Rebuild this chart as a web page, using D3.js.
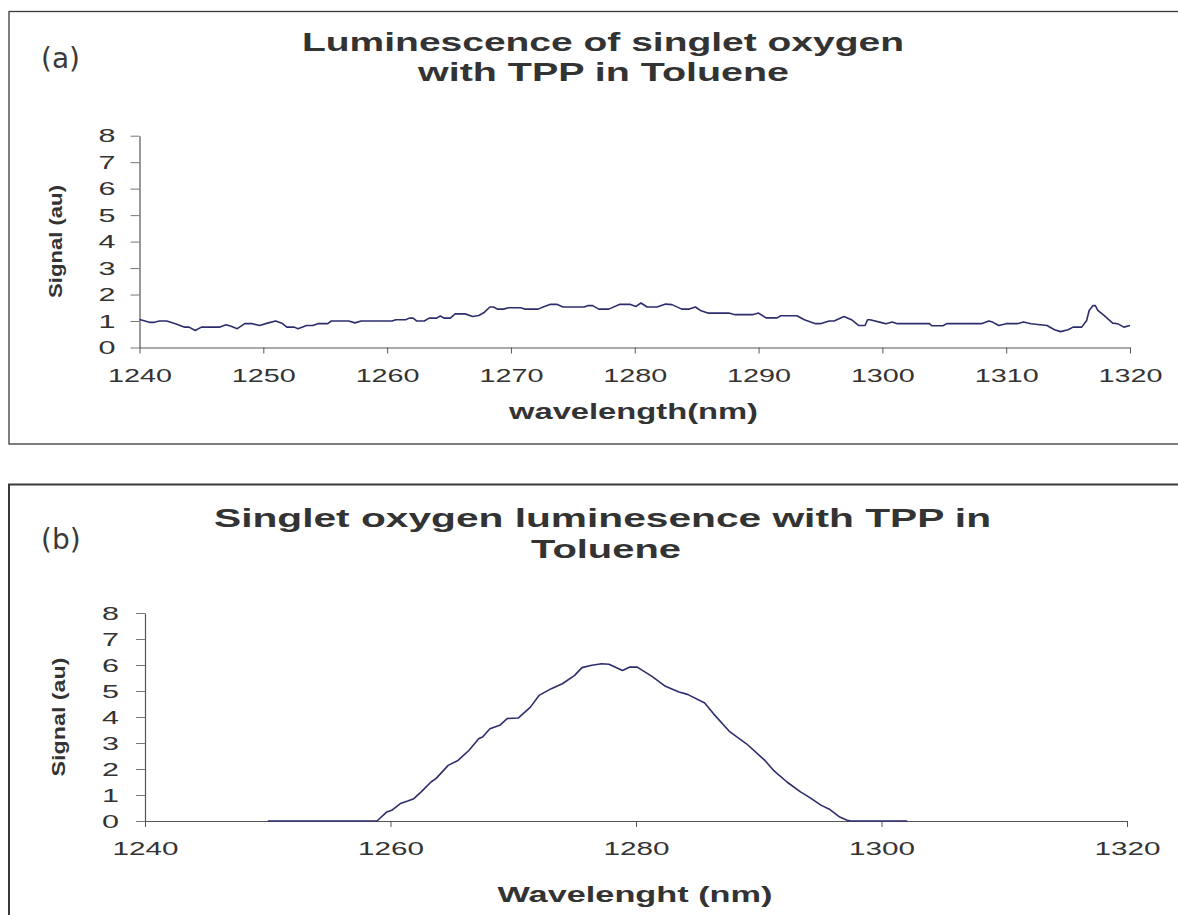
<!DOCTYPE html>
<html>
<head>
<meta charset="utf-8">
<script src="https://cdn.jsdelivr.net/npm/d3@7"></script>
<style>
  html, body { margin: 0; padding: 0; background: #fff; }
  svg { display: block; }
  text { font-family: "Liberation Sans", Arial, sans-serif; fill: #333; }
</style>
</head>
<body>
<svg id="chart" width="1178" height="915"></svg>
<script>
// ---------- data ----------
const aWavelength = [1240.0,1240.3,1240.8,1241.2,1241.6,1242.2,1242.9,1243.6,1244.0,1244.5,1245.0,1246.5,1247.0,1247.4,1247.9,1248.5,1249.1,1249.7,1250.4,1251.0,1251.5,1251.9,1252.5,1252.8,1253.5,1254.0,1254.4,1255.2,1255.5,1256.9,1257.4,1257.9,1260.4,1260.7,1261.5,1261.8,1262.1,1262.4,1263.0,1263.4,1264.0,1264.3,1264.6,1265.1,1265.5,1266.3,1266.9,1267.4,1267.8,1268.3,1268.6,1268.9,1269.4,1269.8,1270.8,1271.1,1272.2,1272.6,1273.2,1273.7,1274.2,1275.9,1276.2,1276.6,1277.1,1277.9,1278.8,1279.6,1280.1,1280.5,1281.0,1281.8,1282.5,1283.0,1283.8,1284.4,1284.9,1285.3,1285.9,1287.6,1288.1,1289.5,1290.0,1290.6,1291.5,1291.8,1293.1,1293.7,1294.6,1295.0,1295.7,1296.1,1296.9,1297.5,1298.1,1298.6,1298.8,1299.0,1300.1,1300.3,1300.8,1301.2,1303.8,1304.0,1304.9,1305.2,1308.0,1308.6,1308.9,1309.4,1310.0,1310.9,1311.4,1312.0,1313.3,1313.9,1314.4,1315.0,1315.4,1316.1,1316.5,1316.7,1317.0,1317.2,1317.4,1317.9,1318.6,1319.0,1319.5,1320.0];
const aSignal = [1.06,1.02,0.95,0.95,1.00,1.00,0.90,0.77,0.77,0.64,0.77,0.77,0.86,0.80,0.71,0.90,0.90,0.83,0.93,1.00,0.92,0.77,0.77,0.71,0.83,0.83,0.90,0.90,1.00,1.00,0.93,1.00,1.00,1.05,1.05,1.11,1.11,1.00,1.00,1.11,1.11,1.19,1.11,1.11,1.27,1.27,1.17,1.21,1.31,1.53,1.53,1.45,1.45,1.50,1.50,1.45,1.45,1.53,1.63,1.63,1.53,1.53,1.58,1.58,1.45,1.45,1.63,1.63,1.55,1.68,1.53,1.53,1.64,1.62,1.45,1.45,1.53,1.40,1.30,1.30,1.24,1.24,1.30,1.12,1.12,1.20,1.20,1.05,0.90,0.90,1.00,1.00,1.17,1.05,0.83,0.83,1.05,1.05,0.92,0.90,0.96,0.90,0.90,0.82,0.82,0.90,0.90,1.00,0.96,0.83,0.90,0.90,0.96,0.90,0.83,0.67,0.60,0.67,0.77,0.77,1.02,1.40,1.58,1.58,1.40,1.21,0.92,0.90,0.77,0.83];

const bWavelength = [1250.0,1258.9,1259.7,1260.1,1260.8,1261.4,1261.9,1262.5,1263.3,1263.7,1264.7,1265.5,1266.4,1267.2,1267.5,1268.1,1268.9,1269.5,1270.4,1271.4,1272.1,1273.1,1274.0,1275.0,1275.6,1276.4,1277.2,1277.8,1278.9,1279.5,1280.1,1281.3,1282.4,1283.5,1284.2,1285.6,1286.3,1287.6,1289.0,1290.5,1291.2,1292.3,1293.4,1294.1,1295.1,1295.8,1296.6,1297.2,1297.5,1302.1];
const bSignal = [0,0,0.35,0.41,0.67,0.77,0.86,1.12,1.50,1.63,2.14,2.33,2.72,3.17,3.23,3.55,3.68,3.94,3.96,4.38,4.83,5.09,5.28,5.60,5.90,5.99,6.05,6.03,5.79,5.92,5.92,5.56,5.18,4.96,4.87,4.54,4.13,3.45,2.97,2.33,1.95,1.50,1.12,0.92,0.60,0.44,0.15,0.03,0,0];

const aXTicks = [1240,1250,1260,1270,1280,1290,1300,1310,1320];
const bXTicks = [1240,1260,1280,1300,1320];
const yTicks = [0,1,2,3,4,5,6,7,8];

const panels = [
  {
    tag: "(a)", tagY: 68,
    frame: {x: 9, y: 11.5, w: 1200, h: 432.5, sw: 1.3},
    x0: 139.5, x1: 1130, y0: 347.5, y8: 135.7,
    xTicks: aXTicks, xTickLen: 64,
    title: [
      {t: "Luminescence of singlet oxygen", x: 302, y: 51, len: 602},
      {t: "with TPP in Toluene", x: 418, y: 81, len: 371}
    ],
    xTitle: {t: "wavelength(nm)", x: 509, y: 419, len: 249},
    yTitle: {x: 62, y: 241.5, len: 113},
    yPad: 15,
    wl: aWavelength, sig: aSignal
  },
  {
    tag: "(b)", tagY: 549,
    frame: {x: 9, y: 484.5, w: 1200, h: 500, sw: 2},
    x0: 145, x1: 1127, y0: 821, y8: 613,
    xTicks: bXTicks, xTickLen: 66,
    title: [
      {t: "Singlet oxygen luminesence with TPP in", x: 214, y: 527, len: 777},
      {t: "Toluene", x: 531, y: 558, len: 150}
    ],
    xTitle: {t: "Wavelenght (nm)", x: 497.5, y: 902, len: 275},
    yTitle: {x: 65, y: 717, len: 119},
    yPad: 17,
    wl: bWavelength, sig: bSignal
  }
];

const svg = d3.select("#chart");

panels.forEach(p => {
  const g = svg.append("g");

  g.append("rect")
    .attr("x", p.frame.x).attr("y", p.frame.y)
    .attr("width", p.frame.w).attr("height", p.frame.h)
    .attr("fill", "none").attr("stroke", "#3a3a3a").attr("stroke-width", p.frame.sw);

  g.append("text")
    .attr("x", 41).attr("y", p.tagY)
    .style("font-family", "'DejaVu Sans', Verdana, sans-serif")
    .style("font-size", "28px")
    .style("fill", "#3a3a3a")
    .text(p.tag);

  p.title.forEach(l => {
    g.append("text")
      .attr("x", l.x).attr("y", l.y)
      .attr("textLength", l.len).attr("lengthAdjust", "spacingAndGlyphs")
      .style("font-size", "25px").style("font-weight", "bold")
      .text(l.t);
  });

  const x = d3.scaleLinear().domain([1240, 1320]).range([p.x0, p.x1]);
  const y = d3.scaleLinear().domain([0, 8]).range([p.y0, p.y8]);

  // x axis
  const xa = g.append("g").attr("transform", `translate(0,${p.y0})`)
    .call(d3.axisBottom(x).tickValues(p.xTicks).tickSize(6).tickSizeOuter(0).tickPadding(15).tickFormat(d3.format("d")));
  xa.select(".domain").attr("stroke", "#555").attr("stroke-width", 1.2);
  xa.selectAll(".tick line").attr("stroke", "#555");
  xa.selectAll(".tick text")
    .style("font-size", "19px").style("font-family", "'Liberation Sans', Arial, sans-serif").attr("fill", "#333")
    .attr("textLength", p.xTickLen).attr("lengthAdjust", "spacingAndGlyphs");

  // y axis
  const ya = g.append("g").attr("transform", `translate(${p.x0},0)`)
    .call(d3.axisLeft(y).tickValues(yTicks).tickSize(9).tickSizeOuter(0).tickPadding(p.yPad).tickFormat(d3.format("d")));
  ya.select(".domain").attr("stroke", "#555").attr("stroke-width", 1.2);
  ya.selectAll(".tick line").attr("stroke", "#777");
  ya.selectAll(".tick text")
    .style("font-size", "19px").style("font-family", "'Liberation Sans', Arial, sans-serif").attr("fill", "#333")
    .attr("textLength", 17).attr("lengthAdjust", "spacingAndGlyphs");

  // axis titles
  g.append("text")
    .attr("x", p.xTitle.x).attr("y", p.xTitle.y)
    .attr("textLength", p.xTitle.len).attr("lengthAdjust", "spacingAndGlyphs")
    .style("font-size", "22px").style("font-weight", "bold")
    .text(p.xTitle.t);

  g.append("text")
    .attr("transform", `translate(${p.yTitle.x},${p.yTitle.y}) rotate(-90)`)
    .attr("x", -p.yTitle.len / 2).attr("y", 0)
    .attr("textLength", p.yTitle.len).attr("lengthAdjust", "spacingAndGlyphs")
    .style("font-size", "19px").style("font-weight", "bold")
    .text("Signal (au)");

  // data line
  const pts = p.wl.map((w, i) => [w, p.sig[i]]);
  g.append("path")
    .datum(pts)
    .attr("fill", "none")
    .attr("stroke", "#2d2d6e")
    .attr("stroke-width", 1.6)
    .attr("stroke-linejoin", "round")
    .attr("d", d3.line().x(d => x(d[0])).y(d => y(d[1])));
});
</script>
</body>
</html>
